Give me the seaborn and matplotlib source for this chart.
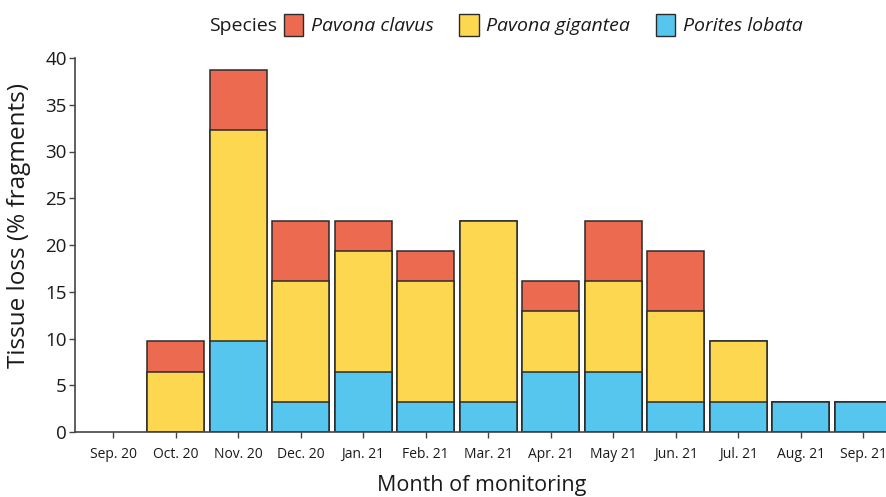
import numpy as np
import pandas as pd
import matplotlib
matplotlib.use("Agg")
import matplotlib.pyplot as plt
from matplotlib.patches import Patch
import seaborn as sns

# Monthly tissue loss (% of fragments) per species
months = ["Sep. 20", "Oct. 20", "Nov. 20", "Dec. 20", "Jan. 21", "Feb. 21", "Mar. 21",
          "Apr. 21", "May 21", "Jun. 21", "Jul. 21", "Aug. 21", "Sep. 21"]
porites_lobata = [0, 0, 9.68, 3.23, 6.45, 3.23, 3.23, 6.45, 6.45, 3.23, 3.23, 3.23, 3.23]
pavona_gigantea = [0, 6.45, 22.58, 12.90, 12.90, 12.90, 19.35, 6.45, 9.68, 9.68, 6.45, 0, 0]
pavona_clavus = [0, 3.23, 6.45, 6.45, 3.23, 3.23, 0, 3.23, 6.45, 6.45, 0, 0, 0]

species = ["Pavona clavus", "Pavona gigantea", "Porites lobata"]
colors = {"Pavona clavus": "#EC6A4F", "Pavona gigantea": "#FDD74F", "Porites lobata": "#56C6EE"}

sns.set_theme(style="ticks")
plt.rcParams["font.family"] = ["Open Sans", "DejaVu Sans"]

df = pd.DataFrame({"month": months,
                   "Porites lobata": porites_lobata,
                   "Pavona gigantea": pavona_gigantea,
                   "Pavona clavus": pavona_clavus})
# cumulative tops for stacking (bottom layer drawn last)
df["top_lobata"] = df["Porites lobata"]
df["top_gigantea"] = df["top_lobata"] + df["Pavona gigantea"]
df["top_clavus"] = df["top_gigantea"] + df["Pavona clavus"]

fig = plt.figure(figsize=(8.87, 4.97), dpi=100)
ax = fig.add_axes([75 / 887, 1 - 432 / 497, 1 - 75 / 887 + 0.002, (432 - 58) / 497])

layers = [("top_clavus", "Pavona clavus"),
          ("top_gigantea", "Pavona gigantea"),
          ("top_lobata", "Porites lobata")]
for col, sp in layers:
    vals = df[col].where(df[col] > 0)
    sns.barplot(x=df["month"], y=vals, order=months, color=colors[sp],
                width=0.91, edgecolor="#2b2b2b", linewidth=1.1,
                saturation=1, ax=ax)

ax.set_xlim(-0.61, 12.41)
ax.set_ylim(0, 40)
ax.set_yticks(np.arange(0, 41, 5))
ax.set_xlabel("Month of monitoring", fontsize=15.5, labelpad=9, color="#1a1a1a")
ax.set_ylabel("Tissue loss (% fragments)", fontsize=17.5, color="#1a1a1a")
ax.yaxis.set_label_coords(-0.054, 0.551)
ax.tick_params(axis="y", labelsize=13.5, length=4, width=1, color="#444444", pad=2,
               labelcolor="#1a1a1a")
ax.tick_params(axis="x", labelsize=10, length=4, width=1, color="#444444", pad=7,
               labelcolor="#1a1a1a")
for s in ["top", "right"]:
    ax.spines[s].set_visible(False)
for s in ["left", "bottom"]:
    ax.spines[s].set_color("#444444")
    ax.spines[s].set_linewidth(1.2)

# legend with a "Species" heading to the left of the swatches
ly = 1 - 25 / 497
handles = [Patch(facecolor=colors[sp], edgecolor="#2b2b2b", linewidth=1.0) for sp in species]
leg = fig.legend(handles, species, loc="center left", bbox_to_anchor=(284 / 887, ly),
                 ncol=3, frameon=False, fontsize=14, handlelength=1.0, handleheight=1.4,
                 handletextpad=0.4, columnspacing=1.3, borderpad=0, borderaxespad=0)
for t in leg.get_texts():
    t.set_color("#1a1a1a")
    t.set_fontstyle("italic")

fig.canvas.draw()
t0 = leg.get_texts()[0]
_, base_y = t0.get_transform().transform(t0.get_position())
fig.text(277 / 887, base_y / fig.bbox.height, "Species", ha="right", va="baseline",
         fontsize=14, color="#1a1a1a")

fig.savefig("out.png", dpi=100)
